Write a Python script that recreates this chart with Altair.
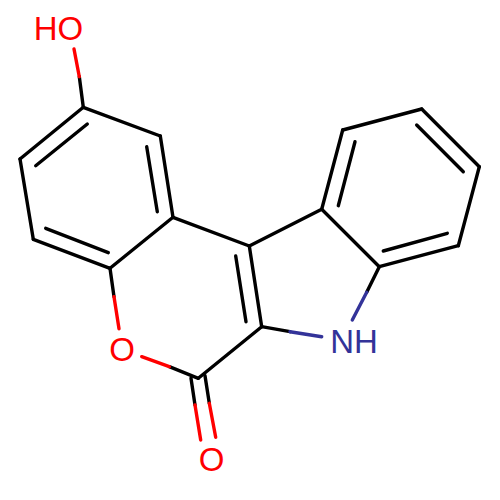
import altair as alt
import pandas as pd

# Bonds of the skeleton drawing, in picture units: start x, start y, end x, end y
black = [
    (79.3, 76.7, 83.3, 107.3), (83.3, 107.3, 160.3, 136.0), (160.3, 136.0, 173.0, 217.3),
    (146.7, 146.7, 157.3, 211.7), (83.3, 107.3, 20.0, 159.0), (87.3, 124.0, 35.7, 165.7),
    (20.0, 159.0, 33.3, 239.3), (33.3, 239.3, 110.0, 268.3), (45.7, 228.3, 108.3, 252.7),
    (110.0, 268.3, 173.0, 217.3), (110.0, 268.3, 114.0, 296.7), (169.3, 366.7, 198.3, 378.3),
    (191.0, 378.3, 195.0, 405.0), (205.0, 375.7, 209.3, 403.3), (198.3, 378.3, 261.7, 326.7),
    (261.7, 326.7, 249.3, 246.0), (235.7, 256.0, 246.0, 321.7), (173.0, 217.3, 249.3, 246.0),
    (249.3, 246.0, 321.7, 209.3), (321.7, 209.3, 342.7, 130.0), (338.3, 205.7, 355.0, 141.7),
    (342.7, 130.0, 421.7, 109.0), (421.7, 109.0, 479.3, 166.7), (416.7, 125.0, 463.3, 171.7),
    (479.3, 166.7, 458.3, 245.7), (458.3, 245.7, 379.3, 266.7), (383.3, 251.0, 447.3, 233.3),
    (379.3, 266.7, 321.7, 209.3), (379.3, 266.7, 366.7, 292.3), (261.7, 326.7, 290.0, 331.7),
]
red = [
    (74.0, 49.0, 79.3, 76.7), (114.0, 296.7, 119.0, 328.7), (141.7, 356.7, 169.3, 366.7),
    (195.0, 405.0, 200.7, 440.0), (209.3, 403.3, 215.7, 437.3),
]
blue = [(366.7, 292.3, 352.3, 320.0), (290.0, 331.7, 321.7, 336.7)]

label_text = ["HO", "O", "O", "NH"]
label_x = [58.5, 122.0, 211.7, 354.0]
label_y = [29.5, 351.0, 461.0, 343.0]
label_color = ["#FF0000", "#FF0000", "#FF0000", "#333399"]

rows = []
for seg, col in [(black, "#000000"), (red, "#FF0000"), (blue, "#333399")]:
    for a, b, c, d in seg:
        rows.append({"x": a, "y": b, "x2": c, "y2": d, "c": col})
bonds = pd.DataFrame(rows)
labels = pd.DataFrame({"t": label_text, "x": label_x, "y": label_y, "c": label_color})

xs = alt.Scale(domain=[8, 492], range=[0, 484], nice=False, zero=False)
ys = alt.Scale(domain=[8, 492], range=[0, 484], nice=False, zero=False)

rule = alt.Chart(bonds).mark_rule(strokeWidth=3.4, strokeCap="round").encode(
    x=alt.X("x:Q", scale=xs, axis=None),
    y=alt.Y("y:Q", scale=ys, axis=None),
    x2="x2:Q",
    y2="y2:Q",
    color=alt.Color("c:N", scale=None),
)
text = alt.Chart(labels).mark_text(
    font="Liberation Sans", fontSize=33, align="center", baseline="middle"
).encode(
    x=alt.X("x:Q", scale=xs, axis=None),
    y=alt.Y("y:Q", scale=ys, axis=None),
    text="t:N",
    color=alt.Color("c:N", scale=None),
)
chart = (rule + text).properties(
    width=484, height=484, padding=0, autosize=alt.AutoSizeParams(type="none")
).configure_view(stroke=None)
chart.save("out.html", embed_options={"renderer": "svg", "actions": False})
